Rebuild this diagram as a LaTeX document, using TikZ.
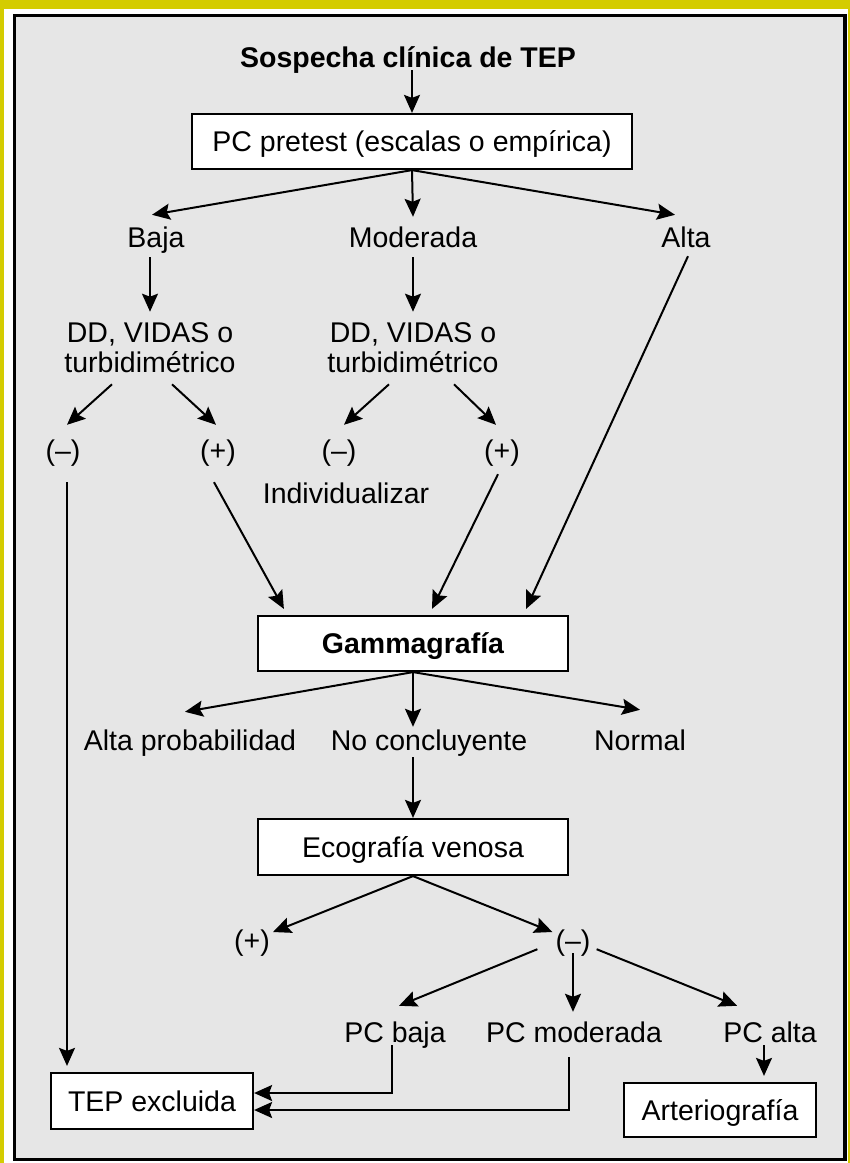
\documentclass[tikz,border=0pt]{standalone}
\usepackage{fontspec}
\setmainfont{Liberation Sans}
\usetikzlibrary{arrows.meta}
\definecolor{amarillo}{RGB}{212,204,0}
\definecolor{fondo}{RGB}{230,230,230}

\begin{document}
\begin{tikzpicture}[x=1pt, y=-1pt,
  every node/.style={font=\fontsize{28.5}{30}\selectfont},
  lbl/.style={inner sep=3pt, text height=20pt, text depth=0pt},
  dd/.style={align=center, inner sep=3pt},
  caja/.style={draw, line width=2.2pt, fill=white, inner sep=0pt, text height=20pt, text depth=0pt},
  flecha/.style={-{Stealth[length=18pt,width=16pt,inset=3pt]}, line width=2pt}]
\useasboundingbox (0,0) rectangle (850,1163);
\fill[amarillo] (0,0) rectangle (850,1163);
\fill[white] (4,9) rectangle (848,1163);
\draw[line width=3.5pt, fill=fondo] (14.5,15.5) rectangle (845,1159.5);

\node[lbl, font=\fontsize{28.5}{30}\selectfont\bfseries] (titulo) at (408,57) {Sospecha clínica de TEP};
\node[caja, minimum width=440pt, minimum height=55pt] (pretest) at (412,141.5) {PC pretest (escalas o empírica)};
\node[lbl] (baja) at (156,237) {Baja};
\node[lbl] (moderada) at (413,237) {Moderada};
\node[lbl] (alta) at (686,237) {Alta};
\node[dd] (dd1) at (150,348) {DD, VIDAS o\\turbidimétrico};
\node[dd] (dd2) at (413,348) {DD, VIDAS o\\turbidimétrico};
\node[lbl] (neg1) at (63,450) {(–)};
\node[lbl] (pos1) at (218,450) {(+)};
\node[lbl] (neg2) at (339,450) {(–)};
\node[lbl] (pos2) at (502,450) {(+)};
\node[lbl] (indiv) at (346,493) {Individualizar};
\node[caja, font=\fontsize{28.5}{30}\selectfont\bfseries, minimum width=310pt, minimum height=55pt] (gamma) at (413,643.5) {Gammagrafía};
\node[lbl] (altaprob) at (190,740) {Alta probabilidad};
\node[lbl] (nocon) at (429,740) {No concluyente};
\node[lbl] (normal) at (640,740) {Normal};
\node[caja, minimum width=310pt, minimum height=56pt] (eco) at (413,847) {Ecografía venosa};
\node[lbl] (pos3) at (252,940) {(+)};
\node[lbl] (neg3) at (573,940) {(–)};
\node[lbl] (pcbaja) at (395,1032) {PC baja};
\node[lbl] (pcmod) at (574,1032) {PC moderada};
\node[lbl] (pcalta) at (770,1032) {PC alta};
\node[caja, minimum width=202pt, minimum height=56pt] (tepex) at (152,1101) {TEP excluida};
\node[caja, minimum width=192pt, minimum height=54pt] (arterio) at (720,1110) {Arteriografía};

\draw[flecha] (titulo.south -| pretest.north) -- (pretest.north);
\draw[flecha] (pretest.south) -- ([xshift=-4pt,yshift=9pt]baja.north);
\draw[flecha] (pretest.south) -- ([yshift=7pt]moderada.north);
\draw[flecha] (pretest.south) -- ([xshift=-11pt,yshift=9pt]alta.north);
\draw[flecha, shorten <=7pt] (baja.south -| dd1.north) -- ([yshift=8pt]dd1.north);
\draw[flecha, shorten <=7pt] (moderada.south -| dd2.north) -- ([yshift=8pt]dd2.north);
\draw[flecha] ([xshift=-38pt,yshift=-8pt]dd1.south) -- ([xshift=4pt,yshift=12pt]neg1.north);
\draw[flecha] ([xshift=22pt,yshift=-8pt]dd1.south) -- ([xshift=-2pt,yshift=12pt]pos1.north);
\draw[flecha] ([xshift=-24pt,yshift=-8pt]dd2.south) -- ([xshift=5pt,yshift=12pt]neg2.north);
\draw[flecha] ([xshift=41pt,yshift=-8pt]dd2.south) -- ([xshift=-6pt,yshift=12pt]pos2.north);

\coordinate (c1) at ([xshift=4pt,yshift=-19pt]neg1.south);
\draw[flecha, shorten >=6pt] (c1) -- (c1 |- tepex.north);
\draw[flecha] ([xshift=-4pt,yshift=-19pt]pos1.south) -- ([xshift=27pt,yshift=6pt]gamma.north west);
\draw[flecha] ([xshift=-4pt,yshift=-11pt]pos2.south) -- ([xshift=19pt,yshift=6pt]gamma.north);
\draw[flecha] ([xshift=2pt,yshift=-6pt]alta.south) -- ([xshift=-43pt,yshift=6pt]gamma.north east);

\draw[flecha] (gamma.south) -- ([xshift=-5pt,yshift=15pt]altaprob.north);
\draw[flecha] (gamma.south) -- (gamma.south |- nocon.north);
\draw[flecha] (gamma.south) -- ([yshift=17pt]normal.north);
\draw[flecha, shorten <=4pt] (nocon.south -| eco.north) -- (eco.north);

\draw[flecha] (eco.south) -- ([yshift=8pt]pos3.east);
\draw[flecha] (eco.south) -- ([yshift=8pt]neg3.west);
\draw[flecha] ([xshift=-15pt,yshift=4pt]neg3.south west) -- ([xshift=4pt,yshift=13pt]pcbaja.north);
\draw[flecha, shorten >=7pt] (neg3.south) -- (neg3.south |- pcmod.north);
\draw[flecha] ([xshift=3pt,yshift=4pt]neg3.south east) -- ([xshift=17pt,yshift=13pt]pcalta.north west);

\coordinate (c2) at ([xshift=-6pt]pcalta.south);
\draw[flecha, shorten >=6pt] (c2) -- (c2 |- arterio.north);
\draw[flecha] ([xshift=-3pt]pcbaja.south) |- ([yshift=8pt]tepex.east);
\draw[flecha] ([xshift=-5pt,yshift=-12pt]pcmod.south) |- ([yshift=-9pt]tepex.east);
\end{tikzpicture}
\end{document}
